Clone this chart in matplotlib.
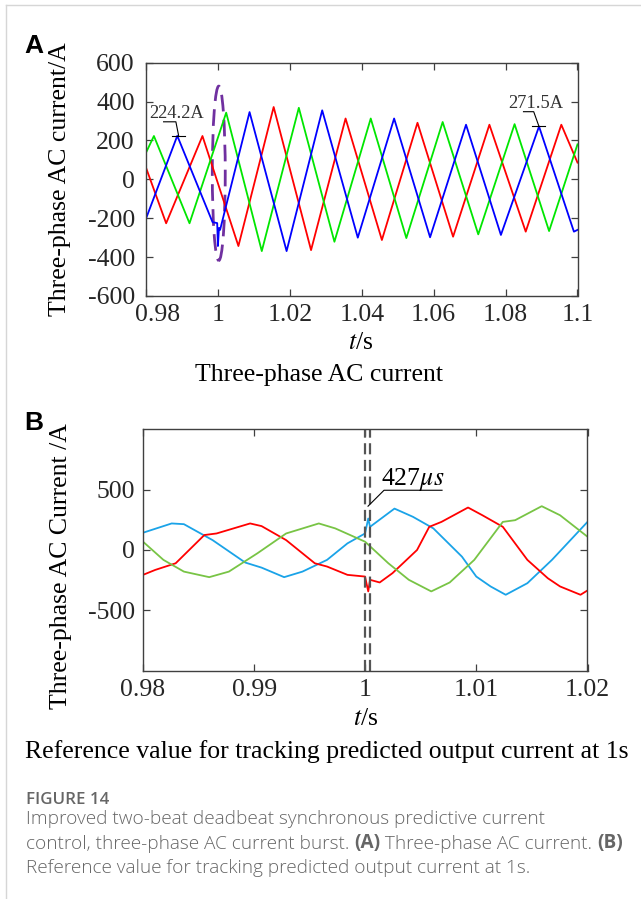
import matplotlib
matplotlib.use('Agg')
import matplotlib.pyplot as plt
from matplotlib.patches import Ellipse
from matplotlib.lines import Line2D
from matplotlib.text import Annotation
from matplotlib.transforms import ScaledTranslation

plt.rcParams['font.family'] = ['Liberation Serif', 'DejaVu Serif']
plt.rcParams['mathtext.fontset'] = 'stix'
plt.rcParams['axes.unicode_minus'] = False

# ---- panel A: three-phase AC current (peaks / troughs)
a_red_t = [0.98, 0.9856, 0.9957, 1.0057, 1.0155, 1.0259, 1.0355, 1.0456, 1.0555,
           1.0654, 1.0755, 1.0856, 1.0955, 1.1]
a_red_i = [60, -226, 223, -343, 372, -364, 313, -312, 291, -295, 281, -269, 281, 86]

a_green_t = [0.98, 0.9822, 0.9921, 1.0023, 1.0122, 1.0225, 1.0324, 1.0425, 1.0524,
             1.0625, 1.0724, 1.0825, 1.0921, 1.1]
a_green_i = [137, 223, -226, 343, -369, 368, -321, 313, -302, 295, -283, 284, -266, 180]

a_blue_t = [0.98, 0.9887, 0.9985, 0.9998, 1.0, 1.0003, 1.0006, 1.0088, 1.0191, 1.0290,
            1.0389, 1.049, 1.0590, 1.069, 1.0787, 1.0893, 1.0990, 1.1]
a_blue_i = [-202, 224, -220, -225, -343, -250, -260, 346, -369, 355, -300, 313, -298,
            281, -286, 272, -269, -260]

a_xticks = [0.98, 1.0, 1.02, 1.04, 1.06, 1.08, 1.1]
a_xlabels = ['0.98', '1', '1.02', '1.04', '1.06', '1.08', '1.1']
a_yticks = [-600, -400, -200, 0, 200, 400, 600]

# ---- panel B: zoom around t = 1 s
b_cyan_t = [0.98, 0.98258, 0.98368, 0.98626, 0.9892, 0.99067, 0.9927, 0.99435, 0.99656,
            0.9984, 0.99998, 1.00027, 1.00043, 1.00263, 1.00429, 1.00613, 1.0087, 1.00999,
            1.01128, 1.01264, 1.01459, 1.0168, 1.02]
b_cyan_i = [143, 220, 214, 82, -104, -146, -225, -179, -82, 55, 137, 261, 192, 343, 275,
            179, -55, -220, -302, -371, -275, -82, 233]

b_red_t = [0.98, 0.9811, 0.98294, 0.98552, 0.98662, 0.98964, 0.99067, 0.99288, 0.99546,
           0.99656, 0.9984, 0.99998, 1.00027, 1.00043, 1.0013, 1.00245, 1.00466, 1.00576,
           1.00686, 1.00925, 1.01054, 1.01238, 1.01459, 1.01643, 1.01753, 1.01937, 1.02]
b_red_i = [-206, -165, -110, 124, 137, 220, 198, 82, -110, -137, -206, -220, -343, -247,
           -269, -192, 0, 192, 233, 352, 288, 192, -82, -234, -302, -371, -335]

b_green_t = [0.98, 0.98184, 0.98368, 0.98596, 0.98773, 0.9903, 0.99288, 0.99582, 0.9973,
             0.99998, 1.00208, 1.00392, 1.00594, 1.0076, 1.00981, 1.01238, 1.01349,
             1.01588, 1.01753, 1.02]
b_green_i = [69, -82, -179, -225, -179, -27, 137, 220, 179, 69, -110, -247, -343, -269,
             -82, 233, 247, 363, 288, 110]

b_xticks = [0.98, 0.99, 1.0, 1.01, 1.02]
b_xlabels = ['0.98', '0.99', '1', '1.01', '1.02']
b_yticks = [-500, 0, 500]
b_marks = [1.0, 1.000427]

W, H = 641, 899
FS = 18.5


def fx(px):
    return px / W


def fy(py):
    return 1 - py / H


def style_axes(ax):
    for s in ax.spines.values():
        s.set_color('#404040')
        s.set_linewidth(1.0)
    ax.tick_params(direction='in', top=True, right=True, length=5, width=0.9,
                   color='#404040', labelsize=FS, labelcolor='#262626')


fig = plt.figure(figsize=(6.41, 8.99), dpi=100)

# ---------------- panel A
axA = fig.add_axes([fx(146), fy(296), fx(577.5) - fx(146), fy(62.7) - fy(296)])
axA.plot(a_red_t, a_red_i, color='#ff0000', lw=1.3)
axA.plot(a_green_t, a_green_i, color='#00e600', lw=1.3)
axA.plot(a_blue_t, a_blue_i, color='#0000ff', lw=1.3)
axA.set_xlim(0.98, 1.1)
axA.set_ylim(-600, 600)
axA.set_xticks(a_xticks)
axA.set_xticklabels(a_xlabels)
axA.set_yticks(a_yticks)
style_axes(axA)
axA.tick_params(axis='x', pad=6)
axA.tick_params(axis='y', pad=8)
# first x label sits a little to the right, clear of "-600"
lab0 = axA.get_xticklabels()[0]
lab0.set_transform(lab0.get_transform() + ScaledTranslation(0.12, 0, fig.dpi_scale_trans))

axA.add_patch(Ellipse((1.00024, 31), 0.0036, 897, fill=False, ec='#7030a0',
                      lw=2, ls=(0, (6, 3))))

# peak markers
axA.plot([0.98489, 0.98831, 0.98909], [296, 296, 223], color='k', lw=0.8)
axA.plot([0.98717, 0.99082], [223, 223], color='k', lw=0.8)
axA.text(0.98862, 341, '224.2A', ha='center', va='center', fontsize=13.3, color='#333333')
axA.plot([1.08498, 1.08782, 1.08929], [348, 348, 272], color='k', lw=0.8)
axA.plot([1.08726, 1.0909], [272, 272], color='k', lw=0.8)
axA.text(1.08845, 390, '271.5A', ha='center', va='center', fontsize=13.3, color='#333333')

fig.text(fx(60), fy(179), 'Three-phase AC current/A', rotation=90, ha='center',
         va='center', fontsize=FS)
fig.text(fx(361), fy(343), r'$\it{t}$/s', ha='center', va='center', fontsize=FS)
fig.text(fx(319), fy(375), 'Three-phase AC current', ha='center', va='center',
         fontsize=FS)
fig.text(fx(34), fy(46), 'A', ha='center', va='center', fontsize=19,
         fontweight='bold', family='Liberation Sans')

# ---------------- panel B
axB = fig.add_axes([fx(143), fy(670.7), fx(587.5) - fx(143), fy(429.3) - fy(670.7)])
axB.plot(b_cyan_t, b_cyan_i, color='#1aa3e8', lw=1.3)
axB.plot(b_red_t, b_red_i, color='#ff0000', lw=1.3)
axB.plot(b_green_t, b_green_i, color='#78c445', lw=1.3)
for m in b_marks:
    axB.axvline(m, color='#555555', lw=1.6, ls=(0, (5, 2.5)))
axB.set_xlim(0.98, 1.02)
axB.set_ylim(-1000, 1000)
axB.set_xticks(b_xticks)
axB.set_xticklabels(b_xlabels)
axB.set_yticks(b_yticks)
style_axes(axB)
axB.tick_params(axis='x', pad=6)
axB.tick_params(axis='y', pad=6)

axB.plot([1.00025, 1.00169, 1.00691], [363, 495, 495], color='k', lw=0.8)
axB.text(1.0043, 585, r'427$\mu s$', ha='center', va='center', fontsize=FS)

fig.text(fx(61), fy(566), 'Three-phase AC Current /A', rotation=90, ha='center',
         va='center', fontsize=FS)
fig.text(fx(366), fy(719), r'$\it{t}$/s', ha='center', va='center', fontsize=FS)
fig.text(fx(327), fy(752), 'Reference value for tracking predicted output current at 1s',
         ha='center', va='center', fontsize=FS)
fig.text(fx(34), fy(423), 'B', ha='center', va='center', fontsize=19,
         fontweight='bold', family='Liberation Sans')

# ---------------- caption
cap = '#666666'
cfont = ['Open Sans', 'DejaVu Sans']
cs = 13.7
fig.text(fx(26), fy(800), 'FIGURE 14', ha='left', va='center', fontsize=12.2,
         color=cap, family=cfont, fontweight='semibold')
fig.text(fx(26), fy(819), 'Improved two-beat deadbeat synchronous predictive current',
         ha='left', va='center', fontsize=cs, color=cap, family=cfont, fontweight='light')
parts = [('(A)', 'bold'), (' Three-phase AC current. ', 'light'), ('(B)', 'bold')]
prev = fig.text(fx(26), fy(844), 'control, three-phase AC current burst. ', ha='left',
                va='center', fontsize=cs, color=cap, family=cfont, fontweight='light')
for txt, wt in parts:
    nxt = Annotation(txt, xy=(1, 0), xycoords=prev, ha='left', va='bottom',
                     fontsize=cs, color=cap, family=cfont, fontweight=wt)
    fig.add_artist(nxt)
    prev = nxt
fig.text(fx(26), fy(868), 'Reference value for tracking predicted output current at 1s.',
         ha='left', va='center', fontsize=cs, color=cap, family=cfont, fontweight='light')

# light frame of the page
fig.add_artist(Line2D([fx(6), 1], [fy(5), fy(5)], color='#d6d6d6', lw=1))
fig.add_artist(Line2D([fx(6), fx(6)], [fy(5), 0], color='#d6d6d6', lw=1))

fig.savefig('out.png', dpi=100)
